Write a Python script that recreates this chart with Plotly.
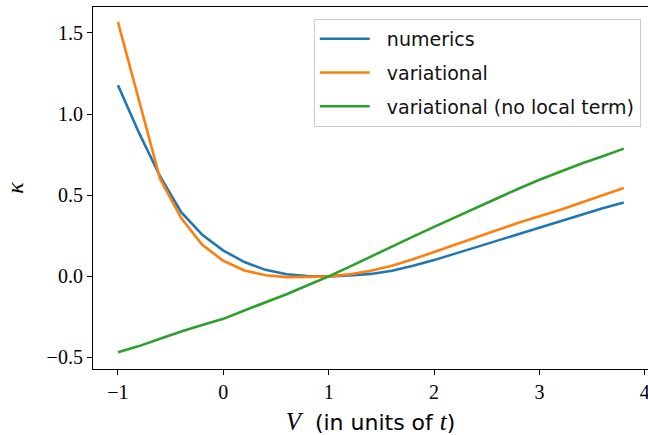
import plotly.graph_objects as go

V = [-1.0, -0.8, -0.6, -0.4, -0.2, 0.0, 0.2, 0.4, 0.6, 0.8, 1.0, 1.2, 1.4, 1.6, 1.8,
     2.0, 2.2, 2.4, 2.6, 2.8, 3.0, 3.2, 3.4, 3.6, 3.8]
numerics = [1.178, 0.884, 0.616, 0.396, 0.256, 0.159, 0.088, 0.040, 0.013, 0.002, 0.0,
            0.005, 0.015, 0.035, 0.065, 0.10, 0.14, 0.18, 0.22, 0.26, 0.30, 0.34, 0.38, 0.42, 0.455]
variational = [1.567, 1.09, 0.60, 0.359, 0.194, 0.096, 0.036, 0.007, -0.005, -0.003, 0.0,
               0.012, 0.035, 0.065, 0.105, 0.15, 0.195, 0.24, 0.285, 0.33, 0.37, 0.41, 0.455, 0.50, 0.544]
variational_nolocal = [-0.468, -0.43, -0.385, -0.34, -0.30, -0.262, -0.21, -0.16, -0.11, -0.055, 0.0,
                       0.06, 0.12, 0.185, 0.245, 0.305, 0.365, 0.425, 0.48, 0.54, 0.595, 0.645, 0.695, 0.74, 0.787]

series = [
    ("numerics", numerics, "#1f77b4"),
    ("variational", variational, "#ff7f0e"),
    ("variational (no local term)", variational_nolocal, "#2ca02c"),
]

fig = go.Figure()
for i, (name, vals, col) in enumerate(series):
    fig.add_trace(go.Scatter(x=V, y=vals, mode="lines", name="\u00a0\u00a0" + name,
                             legendgroup=f"g{i}", line=dict(color=col, width=2.6)))

serif = "Liberation Serif, DejaVu Serif, serif"
sans = "DejaVu Sans, sans-serif"
xtitle = ('<span style="font-family:Liberation Serif;font-size:25px"><i>V</i></span>'
          '\u00a0\u00a0(in units of '
          '<span style="font-family:Liberation Serif;font-size:25px"><i>t</i></span>)')

fig.update_layout(
    width=648, height=435,
    margin=dict(l=93, r=0, t=7, b=66),
    plot_bgcolor="white", paper_bgcolor="white",
    showlegend=True,
    legend=dict(x=0.987, y=0.967, xanchor="right", yanchor="top",
                bgcolor="rgba(255,255,255,0.8)", bordercolor="#cccccc", borderwidth=1,
                font=dict(family=sans, size=19, color="#111"),
                itemwidth=50, tracegroupgap=6),
    xaxis=dict(range=[-1.237, 4.03], tickvals=[-1, 0, 1, 2, 3, 4],
               ticktext=["−1", "0", "1", "2", "3", "4"], automargin=False,
               ticklabeloverflow="allow",
               showgrid=False, zeroline=False, showline=True, linecolor="black", linewidth=1.2,
               mirror=True, ticks="outside", ticklen=5, tickcolor="black",
               tickfont=dict(family=serif, size=20, color="black"),
               title=dict(text=xtitle, standoff=12,
                          font=dict(family=sans, size=22, color="black"))),
    yaxis=dict(range=[-0.571, 1.66], tickvals=[-0.5, 0.0, 0.5, 1.0, 1.5],
               ticktext=["−0.5", "0.0", "0.5", "1.0", "1.5"], automargin=False,
               showgrid=False, zeroline=False, showline=True, linecolor="black", linewidth=1.2,
               mirror=True, ticks="outside", ticklen=5, tickcolor="black",
               tickfont=dict(family=serif, size=20, color="black"),
               title=dict(text="<i>κ</i>", standoff=16,
                          font=dict(family=serif, size=24, color="black"))),
)

fig.write_html("out.html", config={"displayModeBar": False},
               post_script="document.body.style.margin='0';document.body.style.overflow='hidden';")
